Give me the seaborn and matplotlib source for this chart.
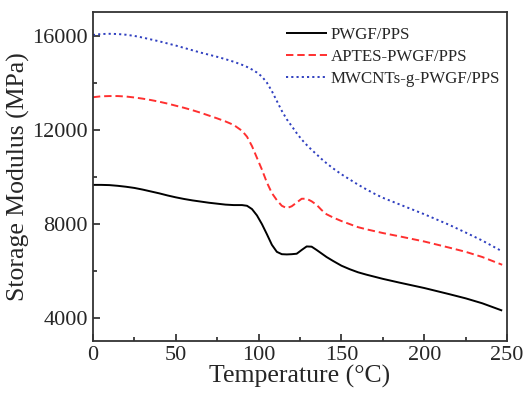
import matplotlib
matplotlib.use('Agg')
import matplotlib.pyplot as plt
import pandas as pd
import seaborn as sns
from matplotlib.ticker import MultipleLocator

# Temperatura (°C) e módulo de armazenamento (MPa)
temperature = [0, 5, 10, 15, 20, 25, 30, 35, 40, 45, 50, 55, 60, 65, 70, 75, 80,
               85, 90, 93, 96, 99, 102, 105, 108, 111, 114, 117, 120, 123, 126,
               129, 132, 135, 138, 141, 145, 150, 155, 160, 165, 170, 175, 185,
               200, 215, 225, 235, 247]
pwgf_pps = [9650, 9650, 9640, 9610, 9570, 9520, 9450, 9370, 9290, 9200, 9120,
            9050, 8990, 8940, 8890, 8850, 8810, 8790, 8790, 8760, 8620, 8350,
            7980, 7550, 7100, 6800, 6700, 6690, 6700, 6720, 6880, 7030, 7020,
            6880, 6730, 6580, 6410, 6210, 6060, 5930, 5830, 5740, 5650, 5490,
            5260, 5000, 4820, 4610, 4300]
aptes_pwgf_pps = [13380, 13420, 13430, 13430, 13410, 13370, 13320, 13260, 13190,
                  13110, 13020, 12930, 12830, 12720, 12600, 12480, 12350, 12200,
                  11950, 11700, 11300, 10800, 10300, 9750, 9300, 9000, 8760, 8660,
                  8740, 8900, 9060, 9060, 8950, 8800, 8580, 8400, 8260, 8110, 7980,
                  7850, 7760, 7680, 7600, 7460, 7240, 6980, 6800, 6580, 6250]
mwcnts_pwgf_pps = [16030, 16070, 16080, 16070, 16040, 15990, 15920, 15840, 15760,
                   15670, 15580, 15480, 15380, 15280, 15190, 15100, 15000, 14890,
                   14760, 14670, 14560, 14430, 14260, 14000, 13640, 13220, 12800,
                   12440, 12150, 11850, 11580, 11350, 11140, 10950, 10750, 10570,
                   10350, 10100, 9880, 9660, 9460, 9270, 9100, 8820, 8400, 7950,
                   7620, 7280, 6820]
labels = ['PWGF/PPS', 'APTES-PWGF/PPS', 'MWCNTs-g-PWGF/PPS']

df = pd.concat([
    pd.DataFrame({'Temperature': temperature, 'Modulus': vals, 'Sample': lab})
    for vals, lab in zip([pwgf_pps, aptes_pwgf_pps, mwcnts_pwgf_pps], labels)
])

sns.set_style('ticks')
plt.rcParams['font.family'] = ['Liberation Serif', 'DejaVu Serif']

fig = plt.figure(figsize=(5.25, 3.93), dpi=100)
ax = fig.add_axes([0.177, 0.132, 0.789, 0.837])

colors = {'PWGF/PPS': 'black', 'APTES-PWGF/PPS': '#ff3030', 'MWCNTs-g-PWGF/PPS': '#3040c0'}
styles = {'PWGF/PPS': (1, 0), 'APTES-PWGF/PPS': (3.8, 2.0), 'MWCNTs-g-PWGF/PPS': (1.1, 1.6)}
sns.lineplot(data=df, x='Temperature', y='Modulus', hue='Sample', style='Sample',
             palette=colors, dashes=styles, linewidth=1.4, ax=ax, sort=False)

ax.set_xlim(0, 250)
ax.set_ylim(3000, 17000)
ax.xaxis.set_major_locator(MultipleLocator(50))
ax.xaxis.set_minor_locator(MultipleLocator(25))
ax.yaxis.set_minor_locator(MultipleLocator(2000))
ax.set_yticks([4000, 8000, 12000, 16000])
ax.tick_params(which='both', direction='in', labelsize=16, width=1.2)
ax.tick_params(which='major', length=5)
ax.tick_params(which='minor', length=3)
for s in ax.spines.values():
    s.set_linewidth(1.3)
    s.set_color('#333333')

ax.set_xlabel('Temperature (°C)', fontsize=18.5, labelpad=0)
ax.set_ylabel('Storage Modulus (MPa)', fontsize=18.5, labelpad=2)

ax.legend(title=None, frameon=False, loc='upper right', fontsize=12.2,
          handlelength=2.4, handletextpad=0.25, labelspacing=0.35,
          borderaxespad=0.0, bbox_to_anchor=(1.0, 0.975))

fig.savefig('out.png', dpi=100)
